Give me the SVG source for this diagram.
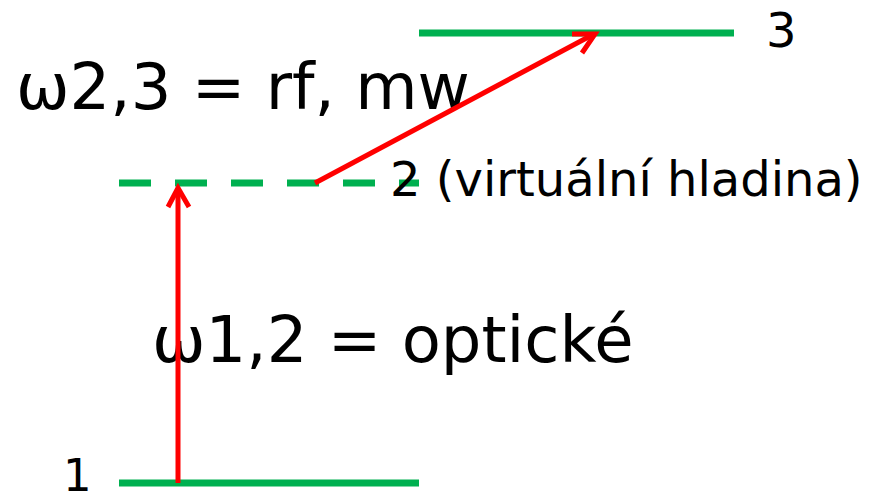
<svg xmlns="http://www.w3.org/2000/svg" width="875" height="496" viewBox="0 0 875 496">
<style>
.lvl{stroke:#00b050;stroke-width:7;fill:none}
.arr{stroke:#ff0000;stroke-width:5;fill:none}
text{font-family:"DejaVu Sans",sans-serif;fill:#000}
</style>
<rect width="875" height="496" fill="#fff"/>
<g id="level1">
<line class="lvl" x1="119" y1="483" x2="419" y2="483"/>
<text x="63" y="491" font-size="45">1</text>
</g>
<g id="level2">
<line class="lvl" x1="119" y1="183" x2="419" y2="183" stroke-dasharray="32 24"/>
<text x="390" y="196" font-size="48">2 (virtuální hladina)</text>
</g>
<g id="level3">
<line class="lvl" x1="419" y1="33" x2="734" y2="33"/>
<text x="766" y="47" font-size="48">3</text>
</g>
<g id="labels">
<text x="16" y="109" font-size="64">ω2,3 = rf, mw</text>
<text x="152" y="362" font-size="64">ω1,2 = optické</text>
</g>
<g id="connectors">
<line class="arr" x1="178" y1="483" x2="178" y2="188"/>
<polyline class="arr" points="168,207 178,188 189,207"/>
<line class="arr" x1="315" y1="183" x2="594" y2="34"/>
<polyline class="arr" points="572,34 595,34 582,53"/>
</g>
</svg>
